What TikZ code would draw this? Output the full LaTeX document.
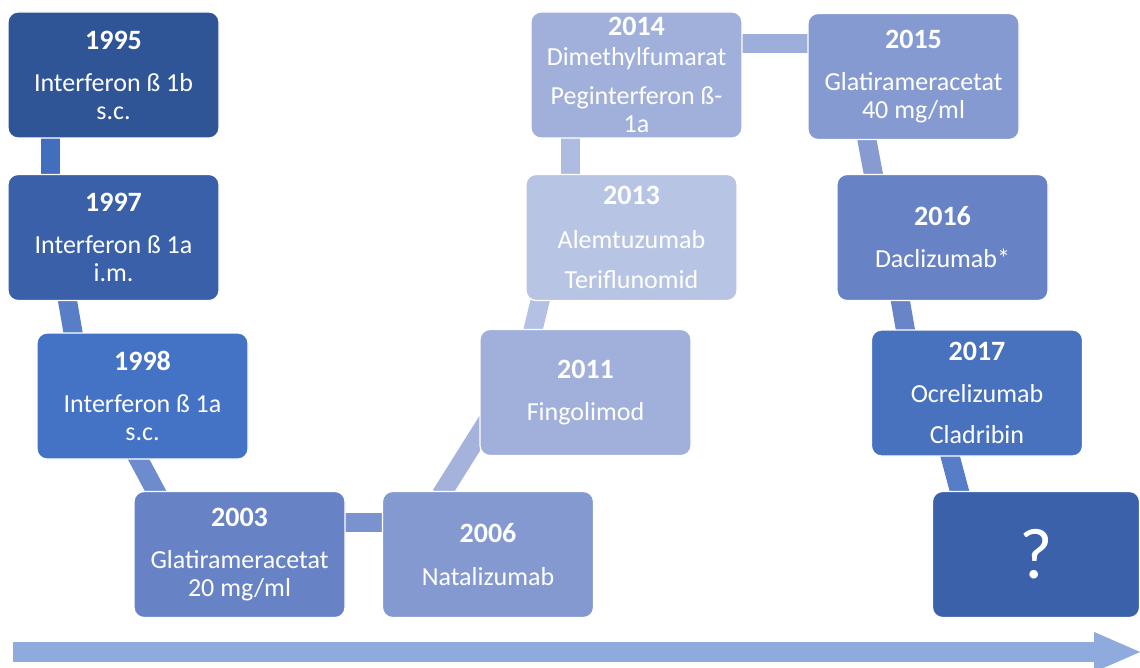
\documentclass[tikz,border=0pt]{standalone}
\usepackage{fontspec}
\setmainfont{Carlito}
\usetikzlibrary{arrows.meta,backgrounds}

\definecolor{fill1995}{RGB}{47,85,151}
\definecolor{fill1997}{RGB}{58,96,170}
\definecolor{fill1998}{RGB}{68,114,196}
\definecolor{fill2003}{RGB}{103,131,197}
\definecolor{fill2006}{RGB}{131,153,208}
\definecolor{fill2011}{RGB}{160,176,218}
\definecolor{fill2013}{RGB}{184,196,227}
\definecolor{fill2014}{RGB}{160,176,218}
\definecolor{fill2015}{RGB}{132,154,208}
\definecolor{fill2016}{RGB}{104,131,197}
\definecolor{fill2017}{RGB}{72,113,190}
\definecolor{fillnext}{RGB}{59,97,170}
\definecolor{timeline}{RGB}{143,170,220}

\newcommand{\bodysize}{\fontsize{26}{28}\selectfont}
\newcommand{\yr}[1]{{\bfseries\fontsize{28}{28}\selectfont #1}}

\tikzset{
    yearbox/.style={draw=white, line width=1.2pt, rounded corners=10pt,
        minimum width=211pt, minimum height=126pt, inner sep=0pt,
        text=white, align=center, font=\bodysize},
    link/.style={line width=19pt},
}

\begin{document}
\begin{tikzpicture}[x=1pt, y=-1pt]
        % pixel grid of the slide, y grows downwards
        \useasboundingbox (0,0) rectangle (1140,668);
        \node[yearbox, fill=fill1995] (y1995) at (113.5,75) {\yr{1995}\\[14pt]Interferon ß 1b\\s.c.};
        \node[yearbox, fill=fill1997] (y1997) at (113.5,237.5) {\yr{1997}\\[14pt]Interferon ß 1a\\i.m.};
        \node[yearbox, fill=fill1998] (y1998) at (142.5,396) {\yr{1998}\\[14pt]Interferon ß 1a\\s.c.};
        \node[yearbox, fill=fill2003] (y2003) at (239.5,554.5) {\yr{2003}\\[14pt]Glatirameracetat\\20 mg/ml};
        \node[yearbox, fill=fill2006] (y2006) at (488,554.5) {\yr{2006}\\[15pt]Natalizumab};
        \node[yearbox, fill=fill2011] (y2011) at (585.5,392.5) {\yr{2011}\\[14pt]Fingolimod};
        \node[yearbox, fill=fill2013] (y2013) at (631.5,237.5) {\yr{2013}\\[16pt]Alemtuzumab\\[12pt]Teriflunomid};
        \node[yearbox, fill=fill2014] (y2014) at (636.5,75) {\yr{2014}\\[2pt]Dimethylfumarat\\[11pt]Peginterferon ß-\\1a};
        \node[yearbox, fill=fill2015] (y2015) at (913.5,76.5) {\yr{2015}\\[14pt]Glatirameracetat\\40 mg/ml};
        \node[yearbox, fill=fill2016] (y2016) at (942.5,237.5) {\yr{2016}\\[14pt]Daclizumab*};
        \node[yearbox, fill=fill2017] (y2017) at (977,393) {\yr{2017}\\[14pt]Ocrelizumab\\[13pt]Cladribin};
        \node[yearbox, fill=fillnext, minimum width=207pt, font=\fontsize{72}{72}\selectfont] (ynext) at (1036,554.5) {?};
        % links behind the boxes
        \begin{scope}[on background layer]
            \draw[link, color={rgb,255:red,66;green,110;blue,190}] ([shift={(-63,55)}]y1995.center) -- ([shift={(-63,-52.5)}]y1997.center);
            \draw[link, color={rgb,255:red,88;green,126;blue,200}] ([shift={(-47.5,54.5)}]y1997.center) -- ([shift={(-68,-55)}]y1998.center);
            \draw[link, color={rgb,255:red,110;green,140;blue,205}] ([shift={(-7.8,56)}]y1998.center) -- ([shift={(-80.7,-57.5)}]y2003.center);
            \draw[link, color={rgb,255:red,122;green,146;blue,206}] ([shift={(100.5,-32.5)}]y2003.center) -- ([shift={(-100,-32.5)}]y2006.center);
            \draw[link, color={rgb,255:red,165;green,178;blue,220}] ([shift={(-47,-59.5)}]y2006.center) -- ([shift={(-95.5,24.5)}]y2011.center);
            \draw[link, color={rgb,255:red,180;green,192;blue,228}] ([shift={(-53.5,-58.5)}]y2011.center) -- ([shift={(-90.5,59.5)}]y2013.center);
            \draw[link, color={rgb,255:red,175;green,188;blue,225}] ([shift={(-61.5,-54.5)}]y2013.center) -- ([shift={(-66.5,55)}]y2014.center);
            \draw[link, color={rgb,255:red,158;green,174;blue,218}] ([shift={(98.5,-31)}]y2014.center) -- ([shift={(-98.5,-32.5)}]y2015.center);
            \draw[link, color={rgb,255:red,135;green,155;blue,210}] ([shift={(-47.5,58.5)}]y2015.center) -- ([shift={(-68,-57.5)}]y2016.center);
            \draw[link, color={rgb,255:red,105;green,133;blue,200}] ([shift={(-43,58.5)}]y2016.center) -- ([shift={(-70.5,-57)}]y2017.center);
            \draw[link, color={rgb,255:red,88;green,125;blue,200}] ([shift={(-28,59)}]y2017.center) -- ([shift={(-75,-57.5)}]ynext.center);
        \end{scope}
        % time axis
        \draw[timeline, line width=20pt, -{Triangle[length=46pt, width=40pt, line width=0.1pt]}] (13,652) -- (1140,652);
    \end{tikzpicture}
\end{document}
